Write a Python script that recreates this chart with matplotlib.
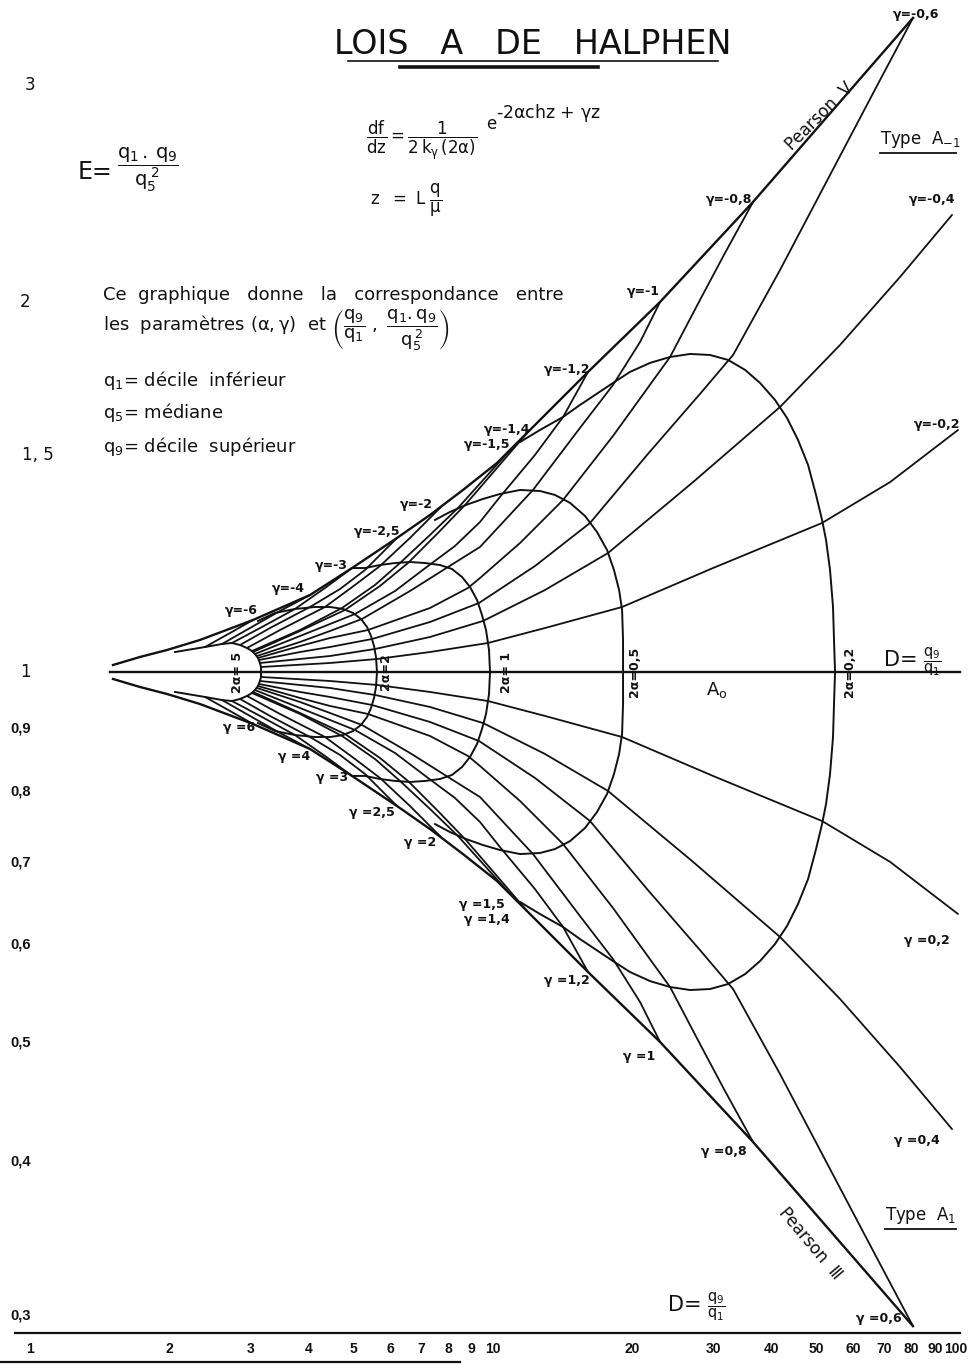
import matplotlib
matplotlib.use("Agg")
import matplotlib.pyplot as plt
from matplotlib.lines import Line2D

plt.rcParams['mathtext.default'] = 'regular'
plt.rcParams['mathtext.fontset'] = 'dejavusans'
plt.rcParams['font.family'] = ['DejaVu Sans', 'Noto Sans CJK JP']

# ------------------------------------------------------------------ data
D_ticks = [1, 2, 3, 4, 5, 6, 7, 8, 9, 10, 20, 30, 40, 50, 60, 70, 80, 90, 100]
D_tick_labels = ['1', '2', '3', '4', '5', '6', '7', '8', '9', '10',
                 '20', '30', '40', '50', '60', '70', '80', '90', '100']
E_ticks_low = [0.3, 0.4, 0.5, 0.6, 0.7, 0.8, 0.9]
E_labels_low = ['0,3', '0,4', '0,5', '0,6', '0,7', '0,8', '0,9']
E_ticks_high = [1, 1.5, 2, 3]
E_labels_high = ['1', '1, 5', '2', '3']

# Pearson V (upper envelope) and Pearson III (lower envelope)
pearson5_D = [1.511, 1.728, 1.976, 2.329, 3.031, 4.025, 4.960, 6.204, 7.310, 8.612, 10.20, 11.84, 16.04, 22.95, 36.44, 54.24, 80.74]
pearson5_E = [1.0132, 1.0285, 1.0420, 1.0618, 1.1022, 1.1550, 1.2148, 1.2852, 1.3417, 1.4060, 1.4789, 1.5642, 1.7536, 1.9990, 2.4105, 2.8636, 3.402]
pearson3_D = [1.511, 1.728, 1.976, 2.329, 3.031, 4.025, 4.960, 6.204, 7.310, 8.612, 10.20, 11.84, 16.04, 22.95, 36.44, 54.24, 80.74]
pearson3_E = [0.9870, 0.9723, 0.9597, 0.9418, 0.9073, 0.8658, 0.8232, 0.7781, 0.7453, 0.7112, 0.6762, 0.6393, 0.5703, 0.5003, 0.4149, 0.3492, 0.2939]

# gamma curves (negative gamma: upper half)
gm6_D = [2.388, 2.704, 3.031]
gm6_E = [1.0479, 1.0757, 1.1022]
gm4_D = [2.598, 2.986, 3.467, 4.025]
gm4_E = [1.0538, 1.0858, 1.1210, 1.1550]
gm3_D = [2.731, 3.170, 3.735, 4.337, 4.960]
gm3_E = [1.0558, 1.0879, 1.1252, 1.1703, 1.2148]
gm25_D = [2.842, 3.299, 4.025, 4.673, 5.291, 6.204]
gm25_E = [1.0518, 1.0858, 1.1294, 1.1681, 1.2103, 1.2852]
gm2_D = [2.942, 3.467, 4.337, 5.034, 5.700, 6.617, 7.682]
gm2_E = [1.0459, 1.0818, 1.1294, 1.1769, 1.2194, 1.2852, 1.3594]
gm15_D = [3.016, 3.830, 4.720, 5.561, 6.297, 7.310, 8.401, 9.610, 10.88]
gm15_E = [1.0401, 1.0818, 1.1273, 1.1769, 1.2263, 1.2924, 1.3594, 1.4380, 1.5152]
gm14_D = [3.031, 3.830, 4.790, 5.700, 6.552, 7.606, 8.741, 10.20, 11.84]
gm14_E = [1.0381, 1.0798, 1.1231, 1.1747, 1.2263, 1.2973, 1.3696, 1.4652, 1.5642]
gm12_D = [3.061, 3.830, 4.446, 5.034, 6.143, 7.237, 8.276, 9.374, 10.35, 12.32, 14.17, 16.04]
gm12_E = [1.0343, 1.0697, 1.0940, 1.1147, 1.1637, 1.2194, 1.2660, 1.3242, 1.3877, 1.5012, 1.6119, 1.7536]
gm1_D = [3.092, 3.830, 4.446, 5.213, 6.617, 7.993, 9.374, 12.20, 15.41, 18.16, 20.78, 22.95]
gm1_E = [1.0304, 1.0578, 1.0798, 1.1043, 1.1637, 1.2171, 1.2637, 1.4060, 1.5791, 1.7113, 1.8549, 1.9990]
gm08_D = [3.107, 3.830, 4.446, 5.371, 7.310, 8.831, 9.374, 11.44, 14.17, 18.16, 24.12, 27.99, 31.70, 36.44]
gm08_E = [1.0266, 1.0499, 1.0657, 1.0818, 1.1273, 1.1703, 1.1924, 1.2732, 1.3800, 1.5555, 1.8034, 2.0065, 2.1910, 2.4105]
gm06_D = [3.123, 3.830, 4.446, 5.479, 7.310, 9.328, 12.32, 16.20, 21.51, 27.99, 33.00, 41.68, 53.44, 68.53, 80.74]
gm06_E = [1.0227, 1.0381, 1.0479, 1.0637, 1.0981, 1.1379, 1.2194, 1.3217, 1.5012, 1.6829, 1.8102, 2.1225, 2.5354, 3.0286, 3.402]
gm04_D = [3.138, 4.446, 5.561, 7.310, 9.515, 12.95, 17.72, 27.04, 41.68, 56.17, 75.70, 98.03]
gm04_E = [1.0170, 1.0304, 1.0440, 1.0677, 1.1002, 1.1659, 1.2495, 1.4268, 1.6423, 1.8445, 2.0948, 2.3527]
gm02_D = [3.154, 4.446, 5.616, 7.310, 9.754, 12.95, 19.00, 29.86, 51.36, 72.03, 101.0]
gm02_E = [1.0094, 1.0170, 1.0246, 1.0381, 1.0558, 1.0858, 1.1294, 1.2148, 1.3217, 1.4268, 1.5730]

# gamma = 0 (symmetric laws)
g0_D = [1.489, 102.0]
g0_E = [1.0, 1.0]

# gamma curves (positive gamma: lower half)
gp6_D = [2.388, 2.704, 3.031]
gp6_E = [0.9543, 0.9296, 0.9073]
gp4_D = [2.598, 2.986, 3.467, 4.025]
gp4_E = [0.9489, 0.9210, 0.8921, 0.8658]
gp3_D = [2.731, 3.170, 3.735, 4.337, 4.960]
gp3_E = [0.9471, 0.9192, 0.8887, 0.8545, 0.8232]
gp25_D = [2.842, 3.299, 4.025, 4.673, 5.291, 6.204]
gp25_E = [0.9508, 0.9210, 0.8854, 0.8561, 0.8262, 0.7781]
gp2_D = [2.942, 3.467, 4.337, 5.034, 5.700, 6.617, 7.682]
gp2_E = [0.9561, 0.9244, 0.8854, 0.8497, 0.8201, 0.7781, 0.7356]
gp15_D = [3.016, 3.830, 4.720, 5.561, 6.297, 7.310, 8.401, 9.610, 10.88]
gp15_E = [0.9614, 0.9244, 0.8871, 0.8497, 0.8155, 0.7738, 0.7356, 0.6954, 0.6600]
gp14_D = [3.031, 3.830, 4.790, 5.700, 6.552, 7.606, 8.741, 10.20, 11.84]
gp14_E = [0.9633, 0.9261, 0.8904, 0.8513, 0.8155, 0.7708, 0.7301, 0.6825, 0.6393]
gp12_D = [3.061, 3.830, 4.446, 5.034, 6.143, 7.237, 8.276, 9.374, 10.35, 12.32, 14.17, 16.04]
gp12_E = [0.9668, 0.9348, 0.9141, 0.8971, 0.8593, 0.8201, 0.7899, 0.7552, 0.7206, 0.6661, 0.6204, 0.5703]
gp1_D = [3.092, 3.830, 4.446, 5.213, 6.617, 7.993, 9.374, 12.20, 15.41, 18.16, 20.78, 22.95]
gp1_E = [0.9705, 0.9454, 0.9261, 0.9056, 0.8593, 0.8216, 0.7913, 0.7112, 0.6333, 0.5843, 0.5391, 0.5003]
gp08_D = [3.107, 3.830, 4.446, 5.371, 7.310, 8.831, 9.374, 11.44, 14.17, 18.16, 24.12, 27.99, 31.70, 36.44]
gp08_E = [0.9741, 0.9525, 0.9384, 0.9244, 0.8871, 0.8545, 0.8386, 0.7854, 0.7246, 0.6429, 0.5545, 0.4984, 0.4564, 0.4149]
gp06_D = [3.123, 3.830, 4.446, 5.479, 7.310, 9.328, 12.32, 16.20, 21.51, 27.99, 33.00, 41.68, 53.44, 68.53, 80.74]
gp06_E = [0.9778, 0.9633, 0.9543, 0.9401, 0.9107, 0.8788, 0.8201, 0.7566, 0.6661, 0.5942, 0.5524, 0.4711, 0.3944, 0.3302, 0.2939]
gp04_D = [3.138, 4.446, 5.561, 7.310, 9.515, 12.95, 17.72, 27.04, 41.68, 56.17, 75.70, 98.03]
gp04_E = [0.9833, 0.9705, 0.9579, 0.9366, 0.9089, 0.8577, 0.8003, 0.7009, 0.6089, 0.5422, 0.4774, 0.4250]
gp02_D = [3.154, 4.446, 5.616, 7.310, 9.754, 12.95, 19.00, 29.86, 51.36, 72.03, 101.0]
gp02_E = [0.9907, 0.9833, 0.9760, 0.9633, 0.9471, 0.9210, 0.8854, 0.8232, 0.7566, 0.7009, 0.6357]

# constant-alpha curves (2 alpha = 5, 2, 1, 0.5, 0.2), from upper envelope round to lower envelope
a5_D = [2.057, 2.388, 2.598, 2.731, 2.842, 2.942, 3.016, 3.061, 3.107, 3.138, 3.154, 3.154,
        3.154, 3.138, 3.107, 3.061, 3.016, 2.942, 2.842, 2.731, 2.598, 2.388, 2.057]
a5_E = [1.0381, 1.0479, 1.0538, 1.0558, 1.0518, 1.0459, 1.0401, 1.0343, 1.0266, 1.0170, 1.0094, 1.0,
        0.9907, 0.9833, 0.9741, 0.9668, 0.9614, 0.9561, 0.9508, 0.9471, 0.9489, 0.9543, 0.9633]
a2_D = [3.107, 3.382, 3.735, 4.127, 4.446, 4.743, 4.985, 5.187, 5.344, 5.452, 5.533, 5.588, 5.616,
        5.588, 5.533, 5.452, 5.344, 5.187, 4.985, 4.743, 4.446, 4.127, 3.735, 3.382, 3.107]
a2_E = [1.1002, 1.1168, 1.1252, 1.1294, 1.1294, 1.1252, 1.1168, 1.1043, 1.0879, 1.0697, 1.0499, 1.0285, 1.0,
        0.9723, 0.9525, 0.9348, 0.9192, 0.9056, 0.8954, 0.8887, 0.8854, 0.8854, 0.8887, 0.8954, 0.9089]
a1_D = [4.960, 5.291, 5.700, 6.143, 6.617, 7.131, 7.682, 8.154, 8.570, 8.919, 9.235, 9.467, 9.658, 9.803, 9.852,
        9.803, 9.658, 9.467, 9.235, 8.919, 8.570, 8.154, 7.682, 7.131, 6.617, 6.143, 5.700, 5.291, 4.960]
a1_E = [1.2148, 1.2148, 1.2217, 1.2263, 1.2286, 1.2263, 1.2217, 1.2126, 1.1947, 1.1725, 1.1443, 1.1126, 1.0818, 1.0420, 1.0,
        0.9597, 0.9244, 0.8988, 0.8739, 0.8529, 0.8370, 0.8247, 0.8185, 0.8155, 0.8139, 0.8155, 0.8185, 0.8232, 0.8232]
a05_D = [7.494, 8.073, 8.741, 9.515, 10.35, 11.44, 12.63, 13.61, 14.67, 15.80, 16.77, 17.63, 18.25, 18.72, 19.00, 19.09, 19.09,
         19.09, 19.00, 18.72, 18.25, 17.63, 16.77, 15.80, 14.67, 13.61, 12.63, 11.44, 10.35, 9.515, 8.741, 8.073, 7.494]
a05_E = [1.3292, 1.3493, 1.3671, 1.3825, 1.3955, 1.4060, 1.4033, 1.3929, 1.3723, 1.3392, 1.2997, 1.2566, 1.2103, 1.1659, 1.1231, 1.0618, 1.0,
         0.9418, 0.8904, 0.8577, 0.8262, 0.7958, 0.7694, 0.7467, 0.7287, 0.7179, 0.7126, 0.7112, 0.7166, 0.7233, 0.7315, 0.7411, 0.7523]
a02_D = [11.44, 12.63, 14.17, 15.41, 16.61, 18.16, 19.76, 21.83, 24.12, 26.65, 29.42, 32.18, 35.03, 37.73, 40.65, 43.15, 45.58,
         47.91, 49.85, 51.36, 52.39, 53.44, 54.24, 54.51, 54.79,
         54.51, 54.24, 53.44, 52.39, 51.36, 49.85, 47.91, 45.58, 43.15, 40.65, 37.73, 35.03, 32.18, 29.42, 26.65, 24.12,
         21.83, 19.76, 18.16, 16.61, 15.41, 14.17, 12.63, 11.44]
a02_E = [1.5381, 1.5730, 1.6119, 1.6485, 1.6797, 1.7178, 1.7536, 1.7835, 1.8034, 1.8136, 1.8102, 1.7935, 1.7602, 1.7178, 1.6640, 1.6088, 1.5439,
         1.4734, 1.3929, 1.3292, 1.2804, 1.2103, 1.1294, 1.0618, 1.0,
         0.9418, 0.8854, 0.8262, 0.7810, 0.7523, 0.7179, 0.6787, 0.6477, 0.6216, 0.6010, 0.5821, 0.5681, 0.5576, 0.5524, 0.5514, 0.5545,
         0.5607, 0.5703, 0.5821, 0.5953, 0.6066, 0.6204, 0.6357, 0.6502]

# ------------------------------------------------------------------ figure
W, H = 979, 1364
fig = plt.figure(figsize=(W / 100, H / 100), dpi=100)
ax = fig.add_axes([0, 0, 1, 1])
ax.set_xscale('log')
ax.set_yscale('log')
ax.set_xlim(0.8614, 112.1)
ax.set_ylim(0.2738, 3.518)
ax.set_axis_off()


def fx(px):
    return px / W


def fy(py):
    return 1 - py / H


ink = '#111111'

# gamma curves with their label placement (offset pixels, alignment)
upper = [
    ('γ=-6', gm6_D, gm6_E, (5, 10), 'right'),
    ('γ=-4', gm4_D, gm4_E, (-5, 7), 'right'),
    ('γ=-3', gm3_D, gm3_E, (-4, 3), 'right'),
    ('γ=-2,5', gm25_D, gm25_E, (3, 6), 'right'),
    ('γ=-2', gm2_D, gm2_E, (-7, 3), 'right'),
    ('γ=-1,5', gm15_D, gm15_E, (0, 5), 'right'),
    ('γ=-1,4', gm14_D, gm14_E, (3, 3), 'right'),
    ('γ=-1,2', gm12_D, gm12_E, (2, 2), 'right'),
    ('γ=-1', gm1_D, gm1_E, (0, 10), 'right'),
    ('γ=-0,8', gm08_D, gm08_E, (-1, 2), 'right'),
    ('γ=-0,6', gm06_D, gm06_E, (3, 3), 'center'),
    ('γ=-0,4', gm04_D, gm04_E, (3, 15), 'right'),
    ('γ=-0,2', gm02_D, gm02_E, (2, 5), 'right'),
]
lower = [
    ('γ =6', gp6_D, gp6_E, (2, -4), 'right'),
    ('γ =4', gp4_D, gp4_E, (0, -8), 'right'),
    ('γ =3', gp3_D, gp3_E, (-4, -2), 'right'),
    ('γ =2,5', gp25_D, gp25_E, (-2, -6), 'right'),
    ('γ =2', gp2_D, gp2_E, (-4, -6), 'right'),
    ('γ =1,5', gp15_D, gp15_E, (-5, -11), 'right'),
    ('γ =1,4', gp14_D, gp14_E, (-17, -9), 'right'),
    ('γ =1,2', gp12_D, gp12_E, (2, -8), 'right'),
    ('γ =1', gp1_D, gp1_E, (-5, -15), 'right'),
    ('γ =0,8', gp08_D, gp08_E, (-6, -10), 'right'),
    ('γ =0,6', gp06_D, gp06_E, (-11, 8), 'right'),
    ('γ =0,4', gp04_D, gp04_E, (-12, -11), 'right'),
    ('γ =0,2', gp02_D, gp02_E, (-8, -26), 'right'),
]
lab_kw = dict(fontsize=9, fontweight='bold', color=ink, va='center',
              textcoords='offset pixels')
for lab, d, e, off, ha in upper + lower:
    ax.plot(d, e, color=ink, lw=1.3, solid_joinstyle='round', solid_capstyle='round')
    ax.annotate(lab, xy=(d[-1], e[-1]), xytext=off, ha=ha, **lab_kw)

ax.plot(g0_D, g0_E, color=ink, lw=1.7)
ax.plot(pearson5_D, pearson5_E, color=ink, lw=1.7, solid_joinstyle='round')
ax.plot(pearson3_D, pearson3_E, color=ink, lw=1.7, solid_joinstyle='round')

arcs = [
    ('2α= 5', a5_D, a5_E, -23),
    ('2α=2', a2_D, a2_E, 9),
    ('2α= 1', a1_D, a1_E, 16),
    ('2α=0,5', a05_D, a05_E, 11),
    ('2α=0,2', a02_D, a02_E, 14),
]
for lab, d, e, dx in arcs:
    ax.plot(d, e, color=ink, lw=1.4, solid_joinstyle='round')
    mid = e.index(1.0)
    ax.annotate(lab, xy=(d[mid], e[mid]), xytext=(dx, 0), textcoords='offset pixels',
                rotation=90, ha='center', va='center', fontsize=9, fontweight='bold', color=ink)

# axis line and tick labels
E_axis = 0.2902
ax.axhline(E_axis, xmin=fx(15), xmax=fx(960), color=ink, lw=1.6)
for v, s in zip(D_ticks, D_tick_labels):
    ax.text(v, 0.2818, s, ha='center', va='center', fontsize=10, fontweight='bold',
            family=['Liberation Sans', 'DejaVu Sans'], color=ink)
ytr = ax.get_yaxis_transform()
for v, s in zip(E_ticks_low, E_labels_low):
    ax.text(fx(10), v, s, transform=ytr, ha='left', va='center', fontsize=10.5,
            fontweight='bold', family=['Liberation Sans', 'DejaVu Sans'], color=ink)
for v, s, xp in zip(E_ticks_high, E_labels_high, [25, 22, 25, 30]):
    ax.text(fx(xp), v, s, transform=ytr, ha='left' if s == '1, 5' else 'center',
            va='center', fontsize=12, color=ink)
fig.add_artist(Line2D([0, fx(460)], [fy(1362), fy(1362)], color=ink, lw=1.6))

# ------------------------------------------------------------------ texts
fig.text(fx(533), fy(44), 'LOIS   A   DE   HALPHEN', ha='center', va='center',
         fontsize=24, color=ink)
fig.add_artist(Line2D([fx(348), fx(718)], [fy(61), fy(61)], color=ink, lw=1.2))
fig.add_artist(Line2D([fx(400), fx(598)], [fy(67), fy(67)], color=ink, lw=2.6))

fig.text(fx(78), fy(172), 'E=', ha='left', va='center', fontsize=17, color=ink)
fig.text(fx(117), fy(170), r'$\dfrac{q_1\,.\,q_9}{q_5^{\;2}}$', ha='left', va='center',
         fontsize=14, color=ink)
fig.text(fx(366), fy(140), r'$\dfrac{df}{dz}=\dfrac{1}{2\,k_{\gamma}\,(2\alpha)}$', ha='left',
         va='center', fontsize=12, color=ink)
fig.text(fx(486), fy(124), 'e', ha='left', va='center', fontsize=12, color=ink)
fig.text(fx(496), fy(113), r'-2$\alpha$chz + $\gamma$z', ha='left', va='center',
         fontsize=12.5, color=ink)
fig.text(fx(370), fy(200), r'$z\ \ =\ L\ \dfrac{q}{\mu}$', ha='left', va='center',
         fontsize=12, color=ink)

fig.text(fx(103), fy(295), 'Ce  graphique   donne   la   correspondance   entre',
         ha='left', va='center', fontsize=13, color=ink)
fig.text(fx(103), fy(330),
         r'les  paramètres $(\alpha,\gamma)$  et $\left(\dfrac{q_9}{q_1}\ ,\ \dfrac{q_1.q_9}{q_5^{\,2}}\right)$',
         ha='left', va='center', fontsize=13, color=ink)
fig.text(fx(103), fy(380), r'$q_1$= décile  inférieur', ha='left', va='center', fontsize=13, color=ink)
fig.text(fx(103), fy(413), r'$q_5$= médiane', ha='left', va='center', fontsize=13, color=ink)
fig.text(fx(103), fy(447), r'$q_9$= décile  supérieur', ha='left', va='center', fontsize=13, color=ink)

fig.text(fx(880), fy(140), r'Type  A$_{-1}$', ha='left', va='center', fontsize=12, color=ink)
fig.add_artist(Line2D([fx(880), fx(956)], [fy(153), fy(153)], color=ink, lw=1.3))
fig.text(fx(885), fy(1215), r'Type  A$_{1}$', ha='left', va='center', fontsize=12, color=ink)
fig.add_artist(Line2D([fx(885), fx(956)], [fy(1229), fy(1229)], color=ink, lw=1.3))

fig.text(fx(820), fy(116), 'Pearson  Ⅴ', rotation=45, ha='center', va='center',
         rotation_mode='anchor', fontsize=12, color=ink)
fig.text(fx(810), fy(1243), 'Pearson  Ⅲ', rotation=-50, ha='center', va='center',
         rotation_mode='anchor', fontsize=12, color=ink)

fig.text(fx(706), fy(690), r'A$_o$', ha='left', va='center', fontsize=13, color=ink)

fig.text(fx(884), fy(660), 'D=', ha='left', va='center', fontsize=15, color=ink)
fig.text(fx(923), fy(662), r'$\dfrac{q_9}{q_1}$', ha='left', va='center', fontsize=10.5, color=ink)
fig.text(fx(668), fy(1305), 'D=', ha='left', va='center', fontsize=15, color=ink)
fig.text(fx(707), fy(1307), r'$\dfrac{q_9}{q_1}$', ha='left', va='center', fontsize=10.5, color=ink)

fig.savefig('out.png', dpi=100, facecolor='white')
